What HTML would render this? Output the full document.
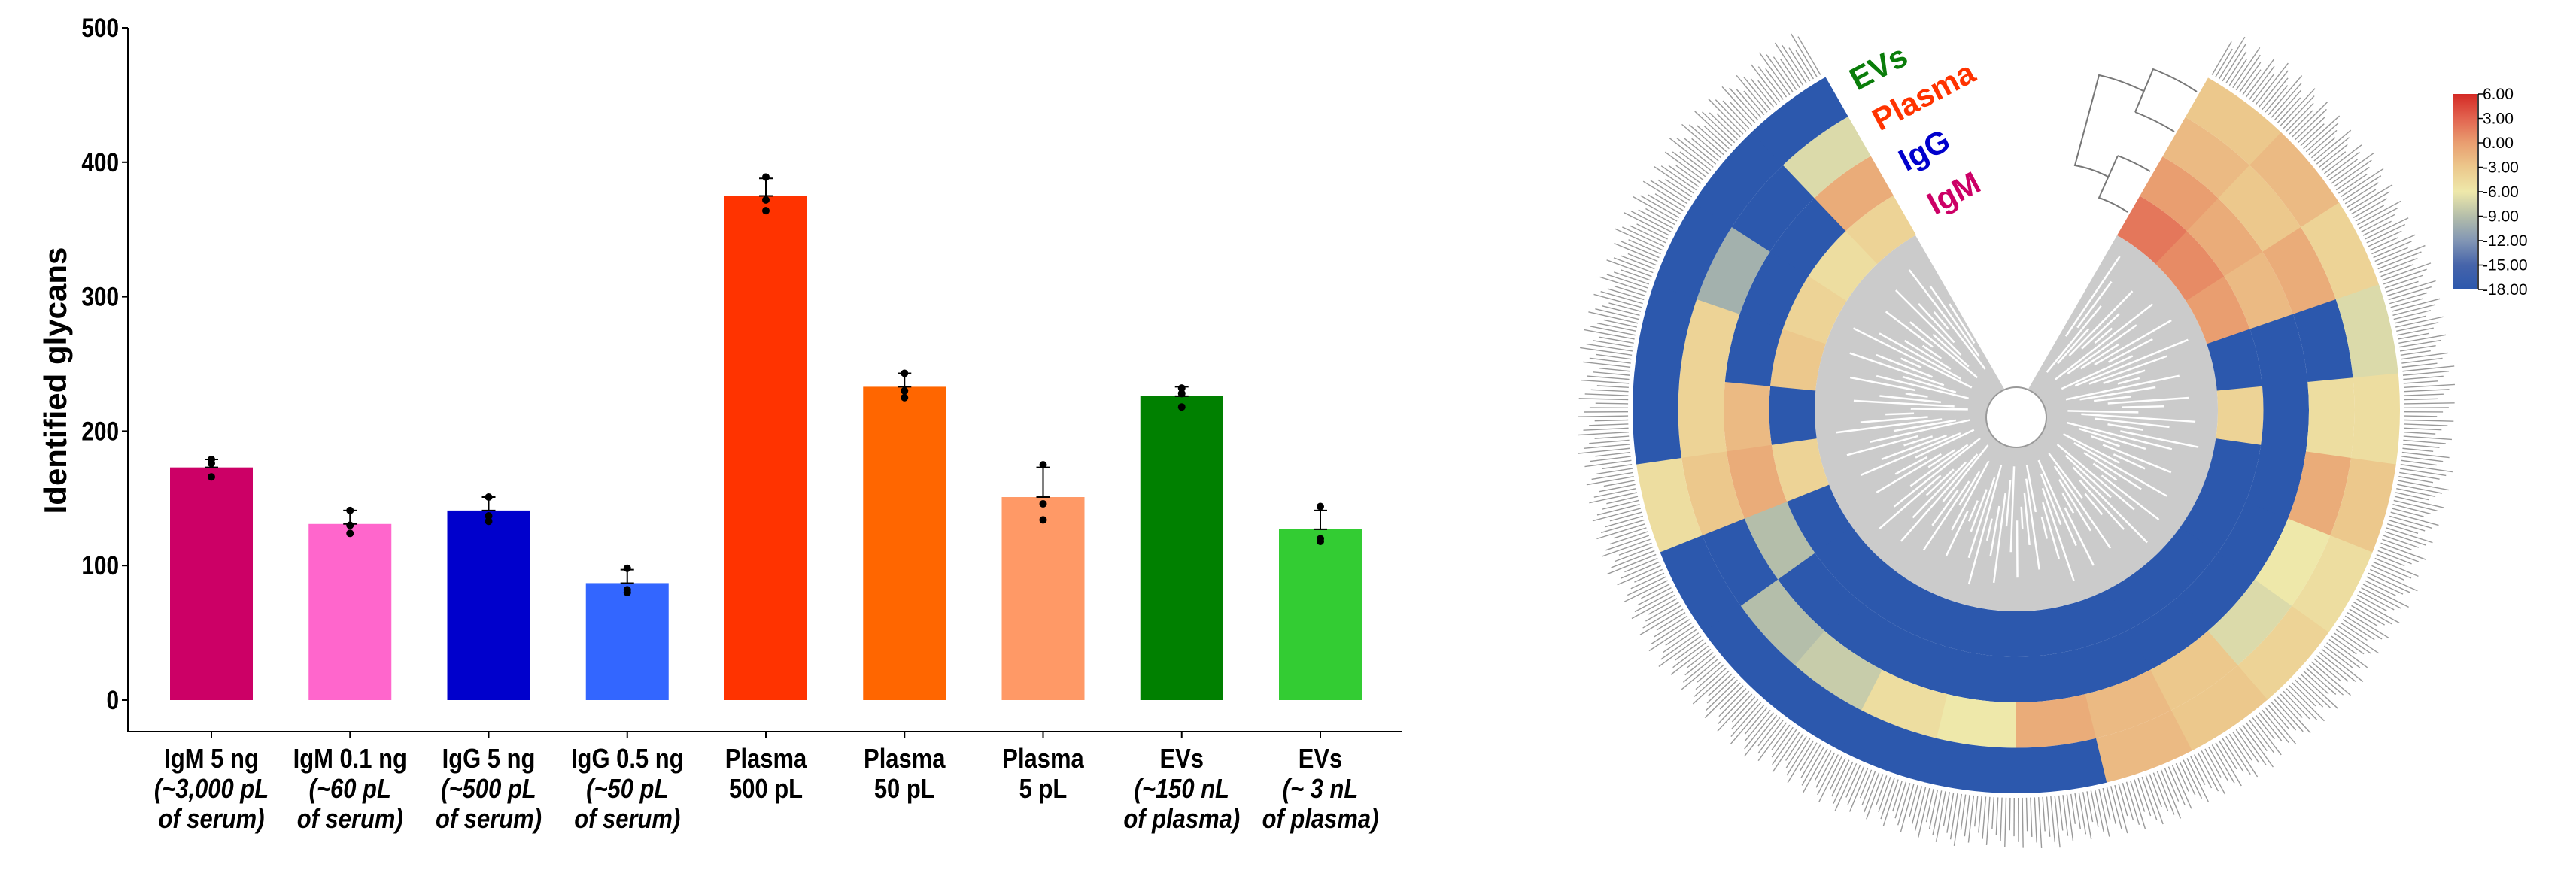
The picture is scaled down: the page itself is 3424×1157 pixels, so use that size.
<!DOCTYPE html>
<html><head><meta charset="utf-8"><style>
html,body{margin:0;padding:0;background:#fff;}
svg{display:block;font-family:"Liberation Sans",sans-serif;}
</style></head><body>
<svg id="root" width="3424" height="1157" viewBox="0 0 3424 1157" xmlns="http://www.w3.org/2000/svg">
<g id="bar"></g>
<g id="heat"></g>
</svg>
<script>
// ---------- bar chart data ----------
const categories = ["IgM 5 ng","IgM 0.1 ng","IgG 5 ng","IgG 0.5 ng","Plasma","Plasma","Plasma","EVs","EVs"];
const subLine1 = ["(~3,000 pL","(~60 pL","(~500 pL","(~50 pL","500 pL","50 pL","5 pL","(~150 nL","(~ 3 nL"];
const subLine2 = ["of serum)","of serum)","of serum)","of serum)","","","","of plasma)","of plasma)"];
const italicSub = [true,true,true,true,false,false,false,true,true];
const meanValues = [173,131,141,87,375,233,151,226,127];
const errTop = [179,141,151,97,388,243,173,233,141];
const replicateA = [179,141,151,98,389,243,175,232,144];
const replicateB = [176,130,137,82,372,230,146,228,120];
const replicateC = [166,124,133,80,364,225,134,218,118];
const barColors = ["#cc0066","#ff66cc","#0000cc","#3366ff","#ff3300","#ff6600","#ff9966","#008000","#33cc33"];
const yTicks = [0,100,200,300,400,500];

// ---------- heatmap data (bins clockwise, IgM innermost -> EVs outermost) ----------
const ringNames = ["IgM","IgG","Plasma","EVs"];
const igmVals    = [2,1,0,-18,-4,-18,-18,-18,-18,-18,-18,-18,-18,-18,-18,-18,-4,-18,-3,-4,-5,-4];
const iggVals    = [0,-1,-2,-18,-18,-18,-18,-18,-18,-18,-18,-18,-18,-18,-18,-9,-1,-2,-18,-18,-18,-1];
const plasmaVals = [-2,-3,-1,-18,-5,-1,-6,-7,-3,-2,-1,-6,-5,-8,-9,-18,-3,-4,-4,-10,-18,-7];
const evsVals    = [-3,-2,-4,-7,-5,-3,-5,-4,-3,-2,-18,-18,-18,-18,-18,-18,-5,-18,-18,-18,-18,-18];
const legendTicks = ["6.00","3.00","0.00","-3.00","-6.00","-9.00","-12.00","-15.00","-18.00"];

const NS="http://www.w3.org/2000/svg";
function mk(tag, parent, attrs){const e=document.createElementNS(NS,tag);for(const k in attrs)e.setAttribute(k,attrs[k]);parent.appendChild(e);return e;}

// ---------- bar chart ----------
const bar=document.getElementById('bar');
const X0=170, XEND=1864, Y0=931, Y500=37, AXY=973;
const yScale=v=>Y0-(v/500)*(Y0-Y500);
const xCenter=i=>281+i*184.25;
const BW=110;

let yl=mk('line',bar,{x1:X0,y1:yScale(500),x2:X0,y2:AXY,stroke:'#000','stroke-width':2});


let xl=mk('line',bar,{x1:X0,y1:AXY,x2:XEND,y2:AXY,stroke:'#000','stroke-width':2});


yTicks.forEach(t=>{
  const y=yScale(t);
  let tk=mk('line',bar,{x1:X0-8,y1:y,x2:X0,y2:y,stroke:'#000','stroke-width':2});
  
  
  let tx=mk('text',bar,{x:0,y:0,transform:`translate(158,${y+12}) scale(0.85,1)`,'text-anchor':'end','font-size':35,'font-weight':'bold'});
  tx.textContent=t;
  
  
});
let yt=mk('text',bar,{x:0,y:0,transform:'translate(88,506) rotate(-90)','text-anchor':'middle','font-size':42,'font-weight':'bold'});
yt.textContent='Identified glycans';



categories.forEach((c,i)=>{
  const cx=xCenter(i);
  let r=mk('rect',bar,{x:cx-BW/2,y:yScale(meanValues[i]),width:BW,height:Y0-yScale(meanValues[i]),fill:barColors[i]});
  
  
  let e=mk('path',bar,{d:`M${cx},${yScale(meanValues[i])}V${yScale(errTop[i])}M${cx-9},${yScale(errTop[i])}H${cx+9}M${cx-9},${yScale(meanValues[i])}H${cx+9}`,stroke:'#000','stroke-width':2,fill:'none'});
  
  
  [replicateA,replicateB,replicateC].forEach(arr=>{
    let p=mk('ellipse',bar,{cx:cx,cy:yScale(arr[i]),rx:5,ry:5,fill:'#000'});
    
    
  });
  let tk=mk('line',bar,{x1:cx,y1:AXY,x2:cx,y2:AXY+8,stroke:'#000','stroke-width':2});
  
  
  const lines=[[c,false],[subLine1[i],italicSub[i]],[subLine2[i],italicSub[i]]];
  lines.forEach((ln,k)=>{
    if(!ln[0])return;
    let t=mk('text',bar,{x:0,y:0,transform:`translate(${cx},${1021+k*40}) scale(0.86,1)`,'text-anchor':'middle','font-size':36,'font-weight':'bold','font-style':ln[1]?'italic':'normal'});
    t.textContent=ln[0];
    
    
  });
});

// ---------- heatmap ----------
const heat=document.getElementById('heat');
const CX=2680, CY=545, RIN=268, RW=60.5, A0=30, A1=330;
const pt=(r,a)=>{const t=a*Math.PI/180;return [CX+r*Math.sin(t),CY-r*Math.cos(t)];};
function sector(r0,r1,a0,a1){
  const [x0,y0]=pt(r1,a0),[x1,y1]=pt(r1,a1),[x2,y2]=pt(r0,a1),[x3,y3]=pt(r0,a0);
  const lg=(a1-a0)>180?1:0;
  return `M${x0},${y0}A${r1},${r1} 0 ${lg} 1 ${x1},${y1}L${x2},${y2}A${r0},${r0} 0 ${lg} 0 ${x3},${y3}Z`;
}
const stops=[[6,[212,42,37]],[3,[226,100,80]],[0,[233,158,112]],[-3,[236,200,140]],[-6,[238,232,170]],[-9,[180,190,170]],[-12,[130,150,180]],[-15,[70,100,170]],[-18,[44,88,173]]];
function color(v){
  for(let i=0;i<stops.length-1;i++){const [va,ca]=stops[i],[vb,cb]=stops[i+1];
    if(v<=va&&v>=vb){const f=(va-v)/(va-vb);return `rgb(${ca.map((c,j)=>Math.round(c+(cb[j]-c)*f)).join(',')})`;}}
  return v>6?'rgb(212,42,37)':'rgb(44,88,173)';
}
// rim label texture
for(let a=A0+0.3;a<A1;a+=0.6){
  const len=40+((a*37)%30);
  const [x0,y0]=pt(RIN+4*RW+6,a),[x1,y1]=pt(RIN+4*RW+6+len,a);
  let l=mk('line',heat,{x1:x0,y1:y0,x2:x1,y2:y1,stroke:'#999','stroke-width':1.4});
  
  
}
// dendrogram
let dg=mk('path',heat,{d:sector(0.1,RIN,A0,A1),fill:'#cbcbcb'});


for(let a=A0+4;a<A1-2;a+=2.6){
  const r0=60+((a*7)%90), r1=RIN-20-((a*13)%110);
  const [x0,y0]=pt(r0,a),[x1,y1]=pt(Math.max(r1,r0+30),a);
  let l=mk('line',heat,{x1:x0,y1:y0,x2:x1,y2:y1,stroke:'#fff','stroke-width':2.5});
  
  
}
let hub=mk('circle',heat,{cx:CX,cy:CY+10,r:40,fill:'#fff',stroke:'#999','stroke-width':2});


// cells
const rings=[igmVals,iggVals,plasmaVals,evsVals];
const nb=igmVals.length, step=(A1-A0)/nb;
rings.forEach((vals,ri)=>{
  vals.forEach((v,bi)=>{
    let p=mk('path',heat,{d:sector(RIN+ri*RW,RIN+(ri+1)*RW,A0+bi*step,A0+(bi+1)*step+0.2),fill:color(v)});
    
    
  });
});
// column dendrogram top right
let cd=mk('path',heat,{d:'M2849,121Q2818,106 2790,100L2758,220Q2781,224 2802,235M2815,207L2790,263Q2810,270 2828,282M2815,207Q2838,216 2858,228M2838,149L2862,92Q2893,104 2920,122M2838,149Q2866,160 2890,175',fill:'none',stroke:'#777','stroke-width':2});


// ring labels
const lbl=[["EVs",2497,104,"#0a7d0a"],["Plasma",2557,142,"#ff3300"],["IgG",2558,214,"#0000cc"],["IgM",2597,271,"#cc0066"]];
lbl.forEach(l=>{
  let t=mk('text',heat,{x:l[1],y:l[2],'text-anchor':'middle','font-size':42,'font-weight':'bold',fill:l[3],transform:`rotate(-28 ${l[1]} ${l[2]-14})`});
  t.textContent=l[0];
  
  
});
// legend
const defs=mk('defs',heat,{});
const lg=mk('linearGradient',defs,{id:'lgrad',x1:0,y1:0,x2:0,y2:1});
stops.forEach((s,i)=>mk('stop',lg,{offset:i/(stops.length-1),'stop-color':color(s[0])}));
let lb=mk('rect',heat,{x:3260,y:125,width:33,height:260,fill:'url(#lgrad)'});


mk('line',heat,{x1:3294,y1:125,x2:3294,y2:385,stroke:'#000','stroke-width':1.5});
legendTicks.forEach((t,i)=>{
  const y=125+i*260/(legendTicks.length-1);
  mk('line',heat,{x1:3294,y1:y,x2:3300,y2:y,stroke:'#000','stroke-width':1.5});
  let tx=mk('text',heat,{x:3300,y:y+7,'font-size':21});
  tx.textContent=t;
  
  
});
</script>
</body></html>
